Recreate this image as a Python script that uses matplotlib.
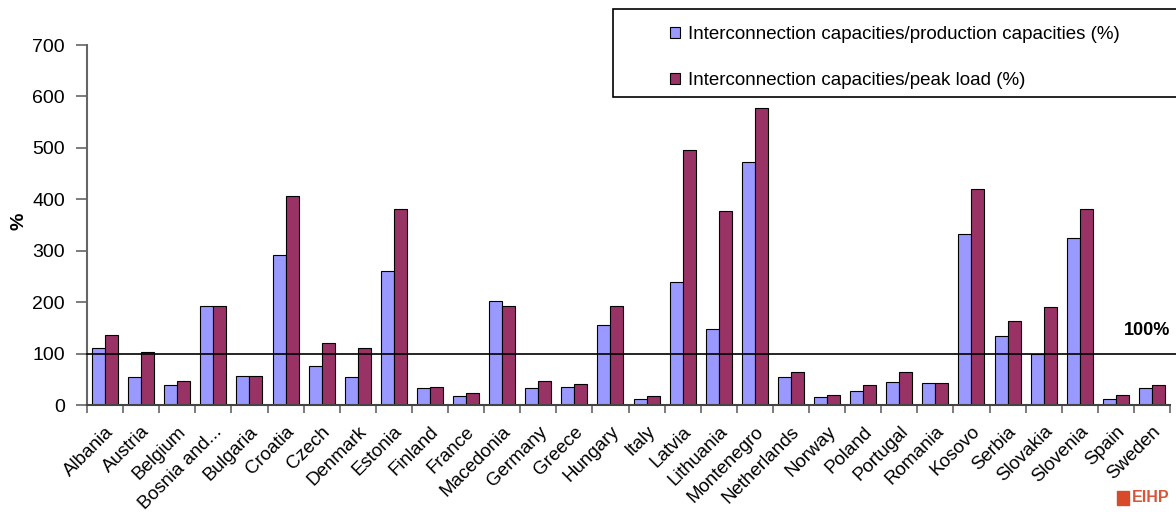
import numpy as np
import matplotlib.pyplot as plt
from matplotlib.patches import Rectangle

plt.rcParams['font.family'] = ['Liberation Sans', 'DejaVu Sans']

countries = ['Albania', 'Austria', 'Belgium', 'Bosnia and...', 'Bulgaria', 'Croatia',
             'Czech', 'Denmark', 'Estonia', 'Finland', 'France', 'Macedonia', 'Germany',
             'Greece', 'Hungary', 'Italy', 'Latvia', 'Lithuania', 'Montenegro',
             'Netherlands', 'Norway', 'Poland', 'Portugal', 'Romania', 'Kosovo', 'Serbia',
             'Slovakia', 'Slovenia', 'Spain', 'Sweden']
prod_cap = [110, 55, 38, 193, 57, 291, 75, 55, 260, 33, 18, 203, 33, 35, 156, 12,
            240, 147, 472, 55, 15, 28, 45, 42, 333, 135, 100, 325, 12, 33]
peak_load = [137, 103, 47, 193, 57, 407, 120, 110, 381, 35, 24, 193, 47, 41, 193, 18,
             495, 378, 577, 65, 20, 38, 65, 42, 420, 163, 190, 381, 20, 38]

blue = '#9999ff'
red = '#993366'

W, H = 1176, 512
fig = plt.figure(figsize=(W / 100, H / 100), dpi=100)
ax = fig.add_axes([87 / W, 1 - 405 / H, (1170 - 87) / W, 360 / H])

x = np.arange(len(countries))
w = 0.36
ax.bar(x - w / 2, prod_cap, w, color=blue, edgecolor='black', linewidth=0.8,
       label='Interconnection capacities/production capacities (%)', zorder=2)
ax.bar(x + w / 2, peak_load, w, color=red, edgecolor='black', linewidth=0.8,
       label='Interconnection capacities/peak load (%)', zorder=2)

ax.axhline(100, xmin=0, xmax=1.01, color='black', lw=1.2, clip_on=False, zorder=3)
ax.text(1.0, 128, '100%', transform=ax.get_yaxis_transform(), ha='right', va='bottom',
        fontsize=13, fontweight='bold')

ax.set_xlim(-0.5, len(countries) - 0.5)
ax.set_ylim(0, 700)
ax.set_yticks(range(0, 701, 100))
ax.tick_params(axis='y', labelsize=14, length=8, width=1.2, color='#666666', pad=8)
ax.set_xticks(x)
ax.set_xticklabels(countries, rotation=45, ha='right', rotation_mode='anchor', fontsize=13.5)
ax.tick_params(axis='x', length=0, pad=13)
ax.set_xticks(np.arange(len(countries) + 1) - 0.5, minor=True)
ax.tick_params(axis='x', which='minor', length=6, width=1.2, color='#666666')

for s in ['top', 'right']:
    ax.spines[s].set_visible(False)
ax.spines['left'].set_color('#666666')
ax.spines['left'].set_linewidth(1.5)
ax.spines['bottom'].set_color('#444444')
ax.spines['bottom'].set_linewidth(1.5)

ax.set_ylabel('%', fontsize=14, fontweight='bold')
ax.yaxis.set_label_coords((27 - 87) / 1083, 0.51)

# legend box reaching the right edge
fig.patches.append(Rectangle((613 / W, 1 - 97 / H), 600 / W, 88 / H, transform=fig.transFigure,
                             facecolor='white', edgecolor='black', linewidth=1.2, zorder=5))
leg = fig.legend(loc='upper left', bbox_to_anchor=(670 / W, 1 - 26 / H), fontsize=13.5,
                 frameon=False, handlelength=0.55, handleheight=0.55, handletextpad=0.4,
                 labelspacing=1.55, borderpad=0, borderaxespad=0)
leg.set_zorder(6)

# EIHP mark
fig.patches.append(Rectangle((1117 / W, 1 - 505 / H), 12 / W, 14 / H,
                             transform=fig.transFigure, color='#d84b2a'))
fig.text(1132 / W, 1 - 497 / H, 'EIHP', fontsize=11.5, color='#d8573a',
         va='center', ha='left', fontweight='bold')

fig.savefig('out.png', dpi=100)
